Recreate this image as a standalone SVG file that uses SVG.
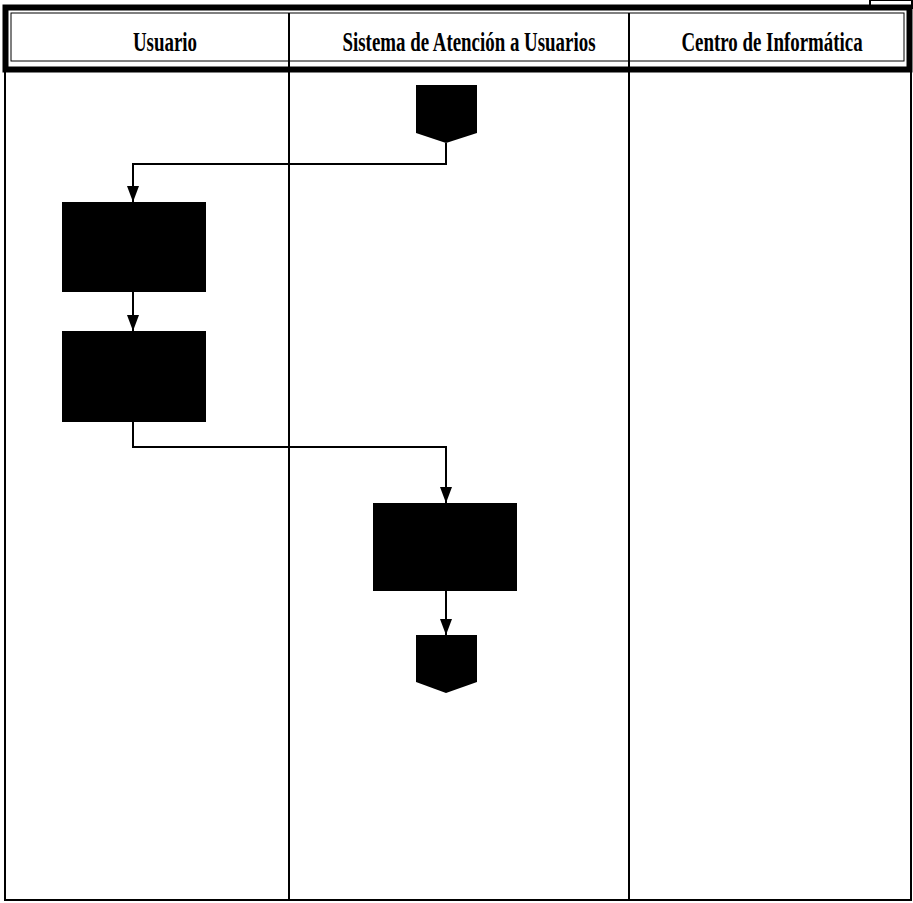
<svg xmlns="http://www.w3.org/2000/svg" width="913" height="903" viewBox="0 0 913 903">
<style>
.hdr{font-family:"Liberation Serif",serif;font-weight:bold;font-size:27px;fill:#000;text-anchor:middle}
.lane{stroke:#000;stroke-width:2;fill:none}
.conn{stroke:#000;stroke-width:2;fill:none}
.node{fill:#000}
</style>
<defs>
<marker id="ah" viewBox="0 0 16 12" refX="16" refY="6" markerWidth="16" markerHeight="12" markerUnits="userSpaceOnUse" orient="auto">
<path d="M0,0 L16,6 L0,12 Z" fill="#000"/>
</marker>
</defs>
<rect width="913" height="903" fill="#fff"/>
<g id="frame">
<rect x="870" y="0" width="42" height="8" fill="none" stroke="#000" stroke-width="2"/>
<rect x="5.5" y="7.5" width="904" height="62" fill="none" stroke="#000" stroke-width="6"/>
<rect x="11" y="13" width="893" height="48" fill="none" stroke="#000" stroke-width="1"/>
<line x1="5" y1="70" x2="5" y2="901" class="lane"/>
<line x1="911" y1="70" x2="911" y2="901" class="lane"/>
<line x1="4" y1="900" x2="912" y2="900" class="lane"/>
<line x1="289" y1="13" x2="289" y2="900" class="lane"/>
<line x1="629" y1="13" x2="629" y2="900" class="lane"/>
</g>
<g id="headers">
<text class="hdr" transform="translate(165,51) scale(0.7,1)">Usuario</text>
<text class="hdr" transform="translate(469,51) scale(0.7,1)">Sistema de Atención a Usuarios</text>
<text class="hdr" transform="translate(772,51) scale(0.7,1)">Centro de Informática</text>
</g>
<g id="start"><path class="node" d="M416,85 H477 V133 L446,143 L416,133 Z"/></g>
<g id="box1"><rect class="node" x="62" y="202" width="144" height="90"/></g>
<g id="box2"><rect class="node" x="62" y="331" width="144" height="91"/></g>
<g id="box3"><rect class="node" x="373" y="503" width="144" height="88"/></g>
<g id="end"><path class="node" d="M416,635 H477 V682 L446,693 L416,682 Z"/></g>
<g id="connectors">
<path class="conn" d="M446,143 V164 H133 V202" marker-end="url(#ah)"/>
<path class="conn" d="M133,292 V331" marker-end="url(#ah)"/>
<path class="conn" d="M133,422 V447 H446 V503" marker-end="url(#ah)"/>
<path class="conn" d="M446,591 V635" marker-end="url(#ah)"/>
</g>
</svg>
